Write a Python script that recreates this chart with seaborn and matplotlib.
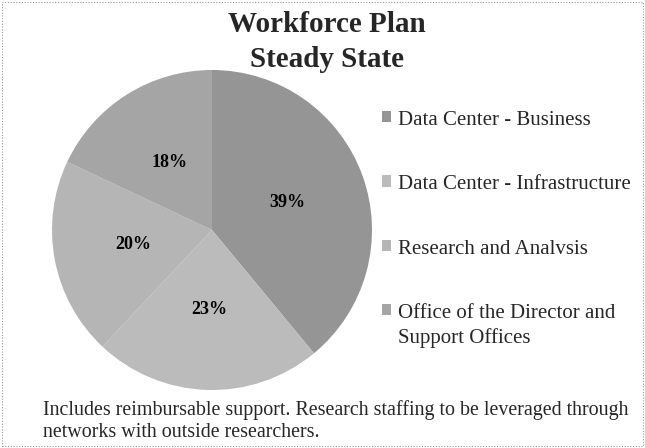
import matplotlib
matplotlib.use("Agg")
import matplotlib.pyplot as plt
import seaborn as sns
from matplotlib.patches import Rectangle

# ---- data ----
categories = ["Data Center - Business",
              "Data Center - Infrastructure",
              "Research and Analvsis",
              "Office of the Director and\nSupport Offices"]
shares = [39, 23, 20, 18]
title_lines = ["Workforce Plan", "Steady State"]
footnote = ("Includes reimbursable support. Research staffing to be leveraged through\n"
            "networks with outside researchers.")

sns.set_theme(style="white")
plt.rcParams["font.family"] = ["Liberation Serif", "DejaVu Serif"]

colors = sns.color_palette(["#959595", "#bbbbbb", "#b5b5b5", "#a5a5a5"])

fig = plt.figure(figsize=(6.45, 4.48), dpi=100)
fig.patch.set_facecolor("white")

ax = fig.add_axes([52 / 645, (448 - 390) / 448, 320 / 645, 320 / 448])
wedges, texts, autotexts = ax.pie(
    shares, colors=colors, startangle=90, counterclock=False,
    autopct=lambda p: f"{p:.0f}%", pctdistance=0.5,
    wedgeprops=dict(linewidth=0),
    textprops=dict(fontsize=13, fontweight="bold", color="black"))
ax.set_xlim(-1, 1)
ax.set_ylim(-1, 1)
ax.set_aspect("equal")
ax.axis("off")

leg = fig.legend(wedges, categories, loc="upper left",
                 bbox_to_anchor=(382 / 645, (448 - 111) / 448),
                 frameon=False, borderpad=0, borderaxespad=0,
                 handlelength=0.45, handleheight=0.45, handletextpad=0.3,
                 labelspacing=2.18, fontsize=15, handler_map=None)
for col in leg._legend_handle_box.get_children():
    for row in col.get_children():
        row.align = "top"
for t in leg.get_texts():
    t.set_linespacing(1.35)

fig.text(327 / 645, (448 - 11) / 448, "\n".join(title_lines),
         ha="center", va="top", fontsize=21, fontweight="bold",
         linespacing=1.38)

fig.text(43 / 645, (448 - 400) / 448, footnote, ha="left", va="top",
         fontsize=14.4, linespacing=1.2)

fig.patches.append(Rectangle((0.003, 0.004), 0.994, 0.992, transform=fig.transFigure,
                             fill=False, edgecolor="#9a9a9a", linewidth=0.8,
                             linestyle=(0, (1, 1.5))))

fig.savefig("out.png", dpi=100)
